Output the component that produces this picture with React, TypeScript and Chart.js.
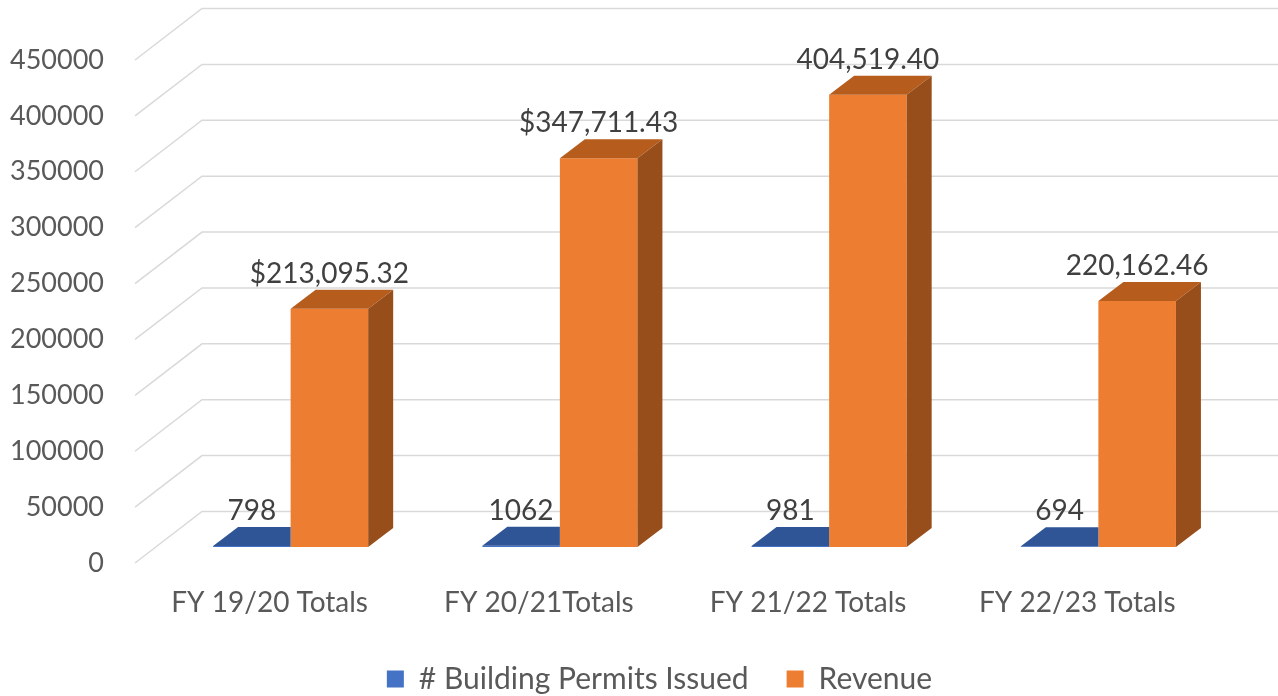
import React, { useEffect, useRef } from "react";
import { Chart, registerables } from "chart.js";

Chart.register(...registerables);

// ---- Data ----
const categories = ["FY 19/20 Totals", "FY 20/21Totals", "FY 21/22 Totals", "FY 22/23 Totals"];
const seriesNames = ["# Building Permits Issued", "Revenue"];
const permits = [798, 1062, 981, 694];
const revenue = [213095.32, 347711.43, 404519.4, 220162.46];
const permitLabels = ["798", "1062", "981", "694"];
const revenueLabels = ["$213,095.32", "$347,711.43", "404,519.40", "220,162.46"];
const yMin = 0;
const yMax = 450000;
const yStep = 50000;

// ---- Style ----
const FONT = "Lato";
const FRONT = { dx: 21, dy: -16 }; // bar front plane offset from axis plane
const DEPTH = { dx: 25, dy: -19 }; // bar depth
const WALL = { dx: 67, dy: -51.5 }; // back wall offset
const LEGEND_SHIFT = 53.5;
const colors = {
  front: ["#4472C4", "#ED7D31"],
  top: ["#2F5597", "#B65D1E"],
  side: ["#264780", "#984E1B"],
};
const valueLabels = [permitLabels, revenueLabels];

const threeD = {
  id: "threeD",
  afterLayout(chart: any) {
    const lg = chart.legend;
    if (lg) {
      lg.left += LEGEND_SHIFT;
      lg.right += LEGEND_SHIFT;
    }
  },
  beforeDatasetsDraw(chart: any) {
    const { ctx, chartArea, scales } = chart;
    const y = scales.y;
    ctx.save();
    ctx.strokeStyle = "#d9d9d9";
    ctx.lineWidth = 1.5;
    for (let v = yMin; v <= yMax; v += yStep) {
      const py = y.getPixelForValue(v);
      ctx.beginPath();
      ctx.moveTo(chartArea.left, py);
      ctx.lineTo(chartArea.left + WALL.dx, py + WALL.dy);
      ctx.lineTo(chart.width, py + WALL.dy);
      ctx.stroke();
    }
    ctx.restore();
    ctx.save();
    ctx.translate(FRONT.dx, FRONT.dy);
  },
  afterDatasetDraw(chart: any, args: any) {
    const ctx = chart.ctx;
    const i = args.index;
    const hasNext = i < chart.data.datasets.length - 1;
    args.meta.data.forEach((bar: any) => {
      const { x, y, base, width } = bar.getProps(["x", "y", "base", "width"], true);
      const l = x - width / 2;
      const r = x + width / 2;
      ctx.save();
      if (hasNext) {
        // the next bar of the group stands in front of this bar's right part
        ctx.beginPath();
        ctx.rect(l - 10, y + DEPTH.dy - 5, r - l + 10, base - y - DEPTH.dy + 10);
        ctx.clip();
      }
      ctx.fillStyle = colors.top[i];
      ctx.beginPath();
      ctx.moveTo(l, y);
      ctx.lineTo(l + DEPTH.dx, y + DEPTH.dy);
      ctx.lineTo(r + DEPTH.dx, y + DEPTH.dy);
      ctx.lineTo(r, y);
      ctx.closePath();
      ctx.fill();
      if (!hasNext) {
        ctx.fillStyle = colors.side[i];
        ctx.beginPath();
        ctx.moveTo(r, y);
        ctx.lineTo(r + DEPTH.dx, y + DEPTH.dy);
        ctx.lineTo(r + DEPTH.dx, base + DEPTH.dy);
        ctx.lineTo(r, base);
        ctx.closePath();
        ctx.fill();
      }
      ctx.restore();
    });
  },
  afterDatasetsDraw(chart: any) {
    const ctx = chart.ctx;
    ctx.font = `28px ${FONT}`;
    ctx.fillStyle = "#404040";
    ctx.textAlign = "center";
    ctx.textBaseline = "alphabetic";
    chart.data.datasets.forEach((_ds: any, i: number) => {
      const meta = chart.getDatasetMeta(i);
      meta.data.forEach((bar: any, j: number) => {
        const { x, y } = bar.getProps(["x", "y"], true);
        ctx.fillText(valueLabels[i][j], x, y + DEPTH.dy - 7);
      });
    });
    ctx.restore();
  },
};

export default function App() {
  const ref = useRef<HTMLCanvasElement | null>(null);
  useEffect(() => {
    if (!ref.current) return;
    const chart = new Chart(ref.current, {
      type: "bar",
      data: {
        labels: categories,
        datasets: [
          {
            label: seriesNames[0],
            data: permits,
            backgroundColor: colors.front[0],
            clip: false as any,
            categoryPercentage: 0.576,
            barPercentage: 1,
          },
          {
            label: seriesNames[1],
            data: revenue,
            backgroundColor: colors.front[1],
            clip: false as any,
            categoryPercentage: 0.576,
            barPercentage: 1,
          },
        ],
      },
      options: {
        responsive: false,
        animation: false,
        layout: { padding: { top: 60, right: 66, bottom: -8, left: 0 } },
        plugins: {
          tooltip: { enabled: false },
          legend: {
            position: "bottom",
            labels: {
              font: { family: FONT, size: 30 },
              color: "#595959",
              boxWidth: 17,
              boxHeight: 17,
              padding: 38,
            },
          },
        },
        scales: {
          x: {
            grid: { display: false, drawTicks: false },
            border: { display: false },
            ticks: { font: { family: FONT, size: 28 }, color: "#595959", padding: 23 },
            afterFit: (s: any) => {
              s.height = 63;
            },
          },
          y: {
            min: yMin,
            max: yMax,
            grid: { display: false, drawTicks: false },
            border: { display: false },
            ticks: {
              stepSize: yStep,
              font: { family: FONT, size: 27 },
              color: "#595959",
              padding: 31,
              callback: (v: any) => String(v),
            },
            afterFit: (s: any) => {
              s.width = 135;
            },
          },
        },
      },
      plugins: [threeD],
    });
    return () => chart.destroy();
  }, []);
  return (
    <div style={{ position: "fixed", left: 0, top: 0, width: 1278, height: 696, background: "#fff" }}>
      <canvas ref={ref} width={1278} height={696} style={{ display: "block" }} />
    </div>
  );
}
